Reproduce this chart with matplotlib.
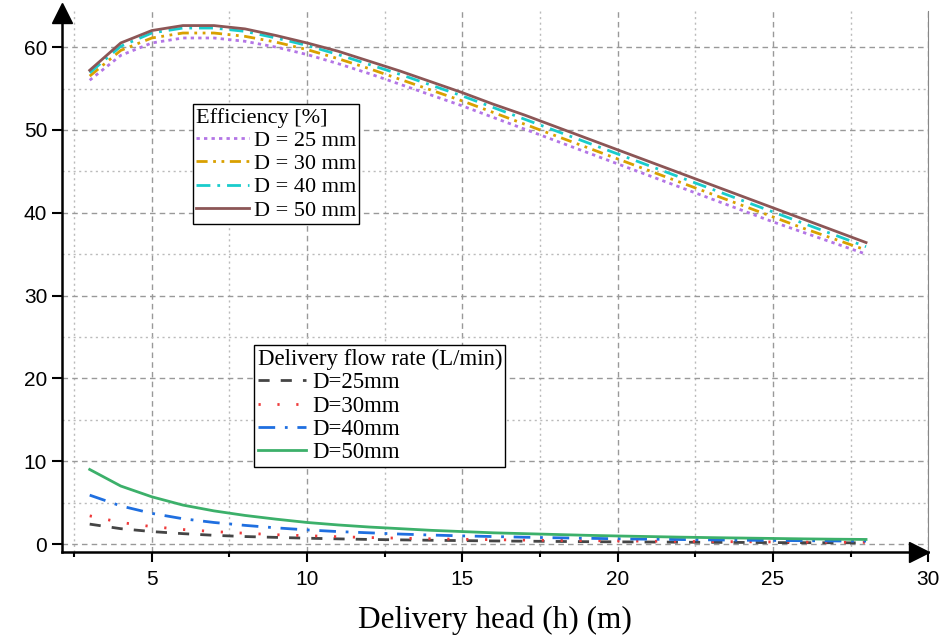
import numpy as np
import matplotlib.pyplot as plt
from matplotlib.ticker import MultipleLocator
from matplotlib.transforms import offset_copy

# delivery head (m)
head = list(range(3, 29))

# efficiency [%]
eff_25 = [56.0, 59.0, 60.5, 61.1, 61.1, 60.7, 60.0, 59.1, 58.0, 56.8, 55.5, 54.2, 52.9,
          51.5, 50.1, 48.7, 47.3, 45.9, 44.5, 43.1, 41.7, 40.3, 38.9, 37.6, 36.3, 35.0]
eff_30 = [56.5, 59.6, 61.1, 61.7, 61.7, 61.3, 60.6, 59.7, 58.6, 57.4, 56.1, 54.8, 53.5,
          52.1, 50.7, 49.3, 47.9, 46.5, 45.1, 43.7, 42.3, 40.9, 39.5, 38.1, 36.8, 35.5]
eff_40 = [56.9, 60.1, 61.7, 62.3, 62.3, 61.9, 61.1, 60.2, 59.1, 57.9, 56.7, 55.4, 54.1,
          52.7, 51.3, 49.9, 48.5, 47.1, 45.7, 44.3, 42.9, 41.5, 40.1, 38.7, 37.3, 35.9]
eff_50 = [57.2, 60.5, 62.0, 62.6, 62.6, 62.2, 61.4, 60.5, 59.5, 58.3, 57.1, 55.8, 54.5,
          53.1, 51.8, 50.4, 49.0, 47.6, 46.2, 44.8, 43.4, 42.0, 40.6, 39.2, 37.8, 36.4]

# delivery flow rate (L/min)
q_25 = [2.4, 1.85, 1.5, 1.25, 1.05, 0.9, 0.8, 0.7, 0.62, 0.55, 0.5, 0.45, 0.41, 0.37,
        0.34, 0.31, 0.28, 0.26, 0.24, 0.22, 0.2, 0.19, 0.17, 0.16, 0.15, 0.14]
q_30 = [3.4, 2.6, 2.1, 1.75, 1.5, 1.3, 1.12, 1.0, 0.88, 0.78, 0.7, 0.63, 0.57, 0.52,
        0.47, 0.43, 0.4, 0.37, 0.34, 0.31, 0.29, 0.27, 0.25, 0.23, 0.22, 0.2]
q_40 = [5.9, 4.6, 3.7, 3.05, 2.6, 2.25, 1.95, 1.7, 1.5, 1.35, 1.2, 1.08, 0.98, 0.9,
        0.82, 0.75, 0.69, 0.63, 0.58, 0.54, 0.5, 0.46, 0.43, 0.4, 0.37, 0.35]
q_50 = [9.0, 7.0, 5.7, 4.7, 4.0, 3.45, 3.0, 2.6, 2.3, 2.05, 1.85, 1.65, 1.5, 1.35,
        1.25, 1.15, 1.05, 0.97, 0.9, 0.83, 0.77, 0.72, 0.67, 0.62, 0.58, 0.55]

serif = 'Liberation Serif'
plt.rcParams['font.family'] = 'Liberation Sans'

fig = plt.figure(figsize=(9.5, 6.38), dpi=100)
ax = fig.add_axes([0.065, 0.135, 0.912, 0.847])

e1, = ax.plot(head, eff_25, color='#b375e6', lw=2.0, ls=(0, (1.2, 1.5)))
e2, = ax.plot(head, eff_30, color='#d9a000', lw=2.0, ls=(0, (4, 2, 1, 2, 1, 2)))
e3, = ax.plot(head, eff_40, color='#19cccc', lw=2.0, ls=(0, (5, 2.5, 1, 2.5)))
e4, = ax.plot(head, eff_50, color='#8c5656', lw=2.0, ls='-')

f1, = ax.plot(head, q_25, color='#454545', lw=2.0, ls=(0, (4, 4)))
f2, = ax.plot(head, q_30, color='#ee3a3a', lw=2.0, ls=(0, (0.8, 6)))
f3, = ax.plot(head, q_40, color='#1f6fe0', lw=2.0, ls=(0, (6, 3.5, 1, 3.5)))
f4, = ax.plot(head, q_50, color='#3cb06a', lw=2.0, ls='-')

ax.set_xlim(2.1, 30)
ax.set_ylim(-0.95, 64.3)
ax.xaxis.set_major_locator(MultipleLocator(5))
ax.xaxis.set_minor_locator(MultipleLocator(2.5))
ax.yaxis.set_major_locator(MultipleLocator(10))
ax.yaxis.set_minor_locator(MultipleLocator(5))
ax.grid(which='major', color='#999999', ls=(0, (4, 3)), lw=1.0)
ax.grid(which='minor', color='#bbbbbb', ls=(0, (1.5, 2.5)), lw=1.0)
ax.tick_params(which='major', direction='out', length=7, width=1.5, labelsize=15)
ax.tick_params(which='minor', direction='out', length=3.5, width=1.5)
ax.tick_params(axis='y', which='minor', length=0)
ax.tick_params(axis='x', which='major', pad=6)

for s in ['left', 'bottom']:
    ax.spines[s].set_linewidth(1.8)
ax.spines['top'].set_visible(False)
ax.spines['right'].set_color('#888888')
ax.plot(1.0, 0, '>k', ms=14, clip_on=False,
        transform=offset_copy(ax.transAxes, fig, x=-9, units='dots'))
ax.plot(0, 1.0, '^k', ms=14, clip_on=False,
        transform=offset_copy(ax.transAxes, fig, y=-2, units='dots'))

ax.set_xlabel('Delivery head (h) (m)', family=serif, fontsize=22.5, labelpad=12)

leg1 = ax.legend([e1, e2, e3, e4], ['D = 25 mm', 'D = 30 mm', 'D = 40 mm', 'D = 50 mm'],
                 title='Efficiency [%]', loc='upper left',
                 bbox_to_anchor=(0.151, 0.828), prop={'family': serif, 'size': 16},
                 title_fontproperties={'family': serif, 'size': 16},
                 fancybox=False, edgecolor='black', framealpha=1, borderpad=0.15,
                 handlelength=2.4, handletextpad=0.2, labelspacing=0.12,
                 borderaxespad=0)
leg1._legend_box.align = 'left'
leg1._legend_box.sep = 2
leg1.get_frame().set_linewidth(1.0)
ax.add_artist(leg1)

leg2 = ax.legend([f1, f2, f3, f4], ['D=25mm', 'D=30mm', 'D=40mm', 'D=50mm'],
                 title='Delivery flow rate (L/min)', loc='upper left',
                 bbox_to_anchor=(0.222, 0.383), prop={'family': serif, 'size': 16.5},
                 title_fontproperties={'family': serif, 'size': 16.5},
                 fancybox=False, edgecolor='black', framealpha=1, borderpad=0.15,
                 handlelength=2.1, handletextpad=0.3, labelspacing=0.1,
                 borderaxespad=0)
leg2._legend_box.align = 'left'
leg2._legend_box.sep = 2
leg2.get_frame().set_linewidth(1.0)

fig.savefig('out.png', dpi=100)
